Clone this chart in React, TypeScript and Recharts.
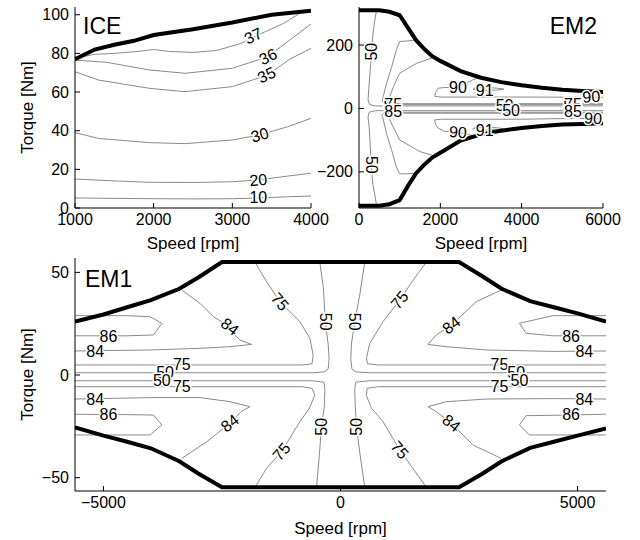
import { ComposedChart, Line, Scatter, XAxis, YAxis } from 'recharts';

type Pt = [number, number];
type Lbl = { x: number; y: number; text: string; angle: number };

// ---------- ICE ----------
const ICE_SPEED_TICKS = [1000, 2000, 3000, 4000];
const ICE_TORQUE_TICKS = [0, 20, 40, 60, 80, 100];

const ICE_MAX: Pt[] = [
  [1000, 77], [1250, 82], [1500, 84.5], [1750, 86.5], [2000, 89.5],
  [2500, 92.5], [3000, 96], [3500, 100], [4000, 102],
];
const ICE_37: Pt[] = [
  [1000, 77.5], [1250, 79.5], [1500, 80], [1800, 81], [2000, 82], [2200, 81],
  [2500, 80.5], [2800, 81.5], [3100, 85], [3300, 89], [3650, 95.5], [3870, 101],
];
const ICE_36: Pt[] = [
  [1000, 76.5], [1400, 75.4], [1950, 71.4], [2400, 69.7], [3000, 72.3],
  [3450, 78.3], [3730, 86.9], [4000, 95.2],
];
const ICE_35: Pt[] = [
  [1000, 70.5], [1300, 66.2], [1950, 61.9], [2400, 60.2], [3000, 62.8],
  [3450, 68.8], [3730, 77], [4000, 82.6],
];
const ICE_30: Pt[] = [
  [1000, 39], [1300, 36], [1950, 33.8], [2400, 33.3], [3000, 35.2],
  [3350, 37.8], [3700, 42], [4000, 46.4],
];
const ICE_20: Pt[] = [
  [1000, 15], [1500, 14], [1950, 13.3], [2500, 13.2], [3000, 13.6],
  [3330, 14.5], [3700, 16.5], [4000, 18],
];
const ICE_10: Pt[] = [
  [1000, 5.2], [1500, 5], [2000, 4.8], [2500, 4.7], [3000, 4.8],
  [3330, 5.2], [3700, 5.8], [4000, 6.2],
];
const ICE_LABELS: Lbl[] = [
  { x: 3266, y: 89, text: '37', angle: -25 },
  { x: 3456, y: 78.3, text: '36', angle: -26 },
  { x: 3436, y: 68.8, text: '35', angle: -25 },
  { x: 3350, y: 37.8, text: '30', angle: -16 },
  { x: 3330, y: 14.5, text: '20', angle: -5 },
  { x: 3330, y: 5.2, text: '10', angle: 0 },
];

// ---------- EM2 ----------
const EM2_SPEED_TICKS = [0, 2000, 4000, 6000];
const EM2_TORQUE_TICKS = [-200, 0, 200];

const EM2_MAX_POS: Pt[] = [
  [0, 310], [500, 310], [750, 305], [1000, 294], [1200, 255], [1400, 216],
  [1600, 188], [1800, 165], [2000, 150], [2500, 118], [3000, 97], [3500, 83],
  [4000, 73], [4500, 65], [5000, 59], [5500, 55], [6000, 52],
];
const EM2_MAX_NEG: Pt[] = [
  [0, -307], [500, -307], [750, -302], [1000, -289], [1200, -245], [1400, -205],
  [1600, -178], [1800, -155], [2000, -140], [2500, -101], [3000, -82], [3500, -70],
  [4000, -62], [4500, -55], [5000, -51], [5500, -49], [6000, -47],
];
const EM2_50_POS: Pt[] = [
  [430, 310], [380, 270], [345, 237], [320, 200], [300, 160], [263, 100],
  [240, 60], [222, 27], [260, 12], [400, 8], [1000, 8], [6000, 8],
];
const EM2_75_POS: Pt[] = [
  [1410, 216], [1200, 213], [1000, 211], [920, 185], [800, 130], [680, 80],
  [600, 40], [570, 22], [640, 13], [900, 12], [6000, 12],
];
const EM2_85_POS: Pt[] = [
  [1820, 160], [1410, 142], [1000, 111], [850, 70], [755, 37], [720, 22],
  [800, 16], [1000, 15], [6000, 15],
];
const EM2_90_POS: Pt[] = [
  [2950, 99], [2700, 84], [2434, 67], [2100, 66], [1945, 63.7], [1880, 50],
  [1867, 38], [2000, 36], [3000, 36], [4000, 36], [5000, 35.5], [6000, 35],
];
const EM2_91_POS: Pt[] = [
  [2800, 60], [3100, 57], [3400, 58], [3560, 61], [3400, 64], [3100, 66],
  [2850, 65], [2800, 60],
];
const EM2_50_NEG: Pt[] = [
  [6000, -7], [1000, -7], [400, -7], [250, -12], [222, -27], [250, -60],
  [270, -100], [300, -178], [340, -240], [400, -280], [430, -305],
];
const EM2_75_NEG: Pt[] = [
  [6000, -12], [900, -12], [620, -14], [560, -22], [590, -31], [673, -78],
  [800, -130], [918, -184], [1000, -206], [1200, -206], [1410, -204],
];
const EM2_85_NEG: Pt[] = [
  [6000, -15], [1000, -15], [780, -17], [720, -22], [755, -36], [1000, -99],
  [1492, -136], [1861, -150],
];
const EM2_90_NEG: Pt[] = [
  [6000, -31], [5000, -32], [4000, -34], [3000, -34], [2000, -34], [1861, -36],
  [1880, -50], [1945, -62], [2100, -72], [2434, -75], [2650, -81], [2800, -87],
];
const EM2_91_NEG: Pt[] = [
  [2800, -64], [3100, -67], [3400, -67], [3560, -64], [3400, -61], [3100, -60],
  [2850, -60], [2800, -64],
];
const EM2_LABELS: Lbl[] = [
  { x: 304, y: 179, text: '50', angle: -90 },
  { x: 304, y: -178, text: '50', angle: 90 },
  { x: 820, y: 9, text: '85', angle: 0 },
  { x: 840, y: 14, text: '75', angle: 0 },
  { x: 820, y: -13, text: '75', angle: 0 },
  { x: 840, y: -9, text: '85', angle: 0 },
  { x: 3580, y: 10, text: '50', angle: 0 },
  { x: 3740, y: -6, text: '50', angle: 0 },
  { x: 5240, y: 9, text: '85', angle: 0 },
  { x: 5262, y: 14, text: '75', angle: 0 },
  { x: 5240, y: -13, text: '75', angle: 0 },
  { x: 5262, y: -9, text: '85', angle: 0 },
  { x: 2434, y: 67, text: '90', angle: 0 },
  { x: 2434, y: -75, text: '90', angle: 4 },
  { x: 3091, y: 57, text: '91', angle: 0 },
  { x: 3091, y: -68, text: '91', angle: 0 },
  { x: 5714, y: 37, text: '90', angle: -4 },
  { x: 5755, y: -31, text: '90', angle: 4 },
];

// ---------- EM1 ----------
const EM1_SPEED_TICKS = [-5000, 0, 5000];
const EM1_TORQUE_TICKS = [-50, 0, 50];

const EM1_MAX_POS: Pt[] = [
  [-5600, 26], [-5000, 29.5], [-4500, 33], [-4000, 36.5], [-3400, 42], [-3000, 47.5],
  [-2500, 55], [2500, 55], [3000, 48], [3400, 42], [4000, 36], [4500, 33],
  [5000, 30], [5600, 26],
];
const EM1_MAX_NEG: Pt[] = [
  [-5600, -25.5], [-5000, -29.5], [-4500, -32.5], [-4000, -35.7], [-3400, -42],
  [-3000, -48], [-2500, -54.7], [2500, -54.7], [3000, -48], [3400, -42],
  [4000, -35.5], [4500, -32.5], [5000, -29.5], [5600, -26],
];
const EM1_86_UL: Pt[] = [
  [-5600, 28.9], [-4500, 28.9], [-4015, 28.4], [-3768, 25.2], [-3945, 19.5],
  [-4500, 19.1], [-5600, 19.1],
];
const EM1_84_UL: Pt[] = [
  [-5600, 11.7], [-4000, 12.2], [-2962, 13], [-2331, 13.8], [-1874, 14.9],
  [-2120, 17], [-2261, 20.3], [-2331, 23.5], [-2682, 28.4], [-2962, 34.9], [-3347, 41.4],
];
const EM1_75_UL: Pt[] = [
  [-1804, 55], [-1558, 45.4], [-1278, 35.7], [-857, 26], [-646, 17.9],
  [-577, 9.7], [-600, 5.5], [-800, 4.9], [-5600, 4.9],
];
const EM1_50_UL: Pt[] = [
  [-436, 55], [-360, 42], [-320, 26], [-260, 15], [-240, 8], [-260, 3],
  [-350, 1.5], [-600, 1.1], [-5600, 1.1],
];
const EM1_50_UR: Pt[] = [
  [512, 55], [406, 39], [300, 26], [230, 15], [217, 8], [240, 3],
  [330, 1.5], [600, 1.1], [5600, 1.1],
];
const EM1_75_UR: Pt[] = [
  [1810, 55], [1459, 43.8], [1248, 36.5], [897, 26], [617, 15.4],
  [547, 8.1], [570, 5.5], [800, 4.9], [5600, 4.9],
];
const EM1_84_UR: Pt[] = [
  [3389, 41.4], [2863, 35.7], [2337, 24.3], [2021, 19.5], [1845, 14.9],
  [2232, 13.8], [3074, 12.2], [4500, 11.5], [5600, 11.7],
];
const EM1_86_UR: Pt[] = [
  [5600, 28.9], [4476, 28.9], [3775, 25.2], [3916, 20.3], [4476, 19.1], [5600, 19.1],
];
const EM1_86_LL: Pt[] = [
  [-5600, -19.1], [-4500, -19.3], [-3945, -19.5], [-3768, -24.3], [-4015, -29.2],
  [-4500, -29.2], [-5600, -29.2],
];
const EM1_84_LL: Pt[] = [
  [-5600, -11.7], [-4000, -11], [-2962, -11], [-2331, -13], [-1909, -15.4],
  [-2100, -17.9], [-2331, -23.5], [-2821, -32.5], [-3347, -40.6],
];
const EM1_75_LL: Pt[] = [
  [-5600, -5.7], [-800, -5.7], [-600, -6.5], [-541, -9.7], [-650, -16],
  [-857, -22.7], [-1242, -37.3], [-1558, -45.4], [-1804, -54.7],
];
const EM1_50_LL: Pt[] = [
  [-5600, -2.8], [-600, -2.8], [-350, -3.5], [-330, -7], [-340, -15],
  [-400, -25.2], [-450, -40], [-505, -54.7],
];
const EM1_50_LR: Pt[] = [
  [5600, -2.8], [600, -2.8], [320, -3.5], [300, -7], [310, -15],
  [337, -25.2], [420, -40], [512, -54.7],
];
const EM1_75_LR: Pt[] = [
  [5600, -5.7], [800, -5.7], [560, -6.5], [547, -10], [650, -16],
  [897, -22.7], [1248, -36.5], [1810, -54.7],
];
const EM1_84_LR: Pt[] = [
  [5600, -11.7], [4500, -11.5], [3074, -11.7], [2232, -13], [1845, -15.4],
  [2021, -17.9], [2337, -23.5], [2792, -34.1], [3389, -40.6],
];
const EM1_86_LR: Pt[] = [
  [5600, -19.1], [4863, -19.5], [3916, -19.8], [3775, -24.3], [3985, -29.2], [5600, -29.2],
];
const EM1_LABELS: Lbl[] = [
  { x: -4893, y: 18.9, text: '86', angle: 0 },
  { x: -5173, y: 11.6, text: '84', angle: 0 },
  { x: -2331, y: 23.5, text: '84', angle: 38 },
  { x: -1278, y: 35.7, text: '75', angle: 50 },
  { x: -310, y: 26, text: '50', angle: 90 },
  { x: 286, y: 26, text: '50', angle: 90 },
  { x: 1248, y: 36.5, text: '75', angle: -50 },
  { x: 2337, y: 24.3, text: '84', angle: -38 },
  { x: 4863, y: 18.9, text: '86', angle: 0 },
  { x: 5143, y: 11.6, text: '84', angle: 0 },
  { x: -3347, y: 4.9, text: '75', angle: 0 },
  { x: -3699, y: 1.1, text: '50', angle: 0 },
  { x: -3768, y: -2.8, text: '50', angle: 0 },
  { x: -3347, y: -5.7, text: '75', angle: 0 },
  { x: 3354, y: 4.9, text: '75', angle: 0 },
  { x: 3705, y: 1.1, text: '50', angle: 0 },
  { x: 3775, y: -2.8, text: '50', angle: 0 },
  { x: 3354, y: -5.7, text: '75', angle: 0 },
  { x: -5173, y: -11.7, text: '84', angle: 0 },
  { x: -4893, y: -19.3, text: '86', angle: 0 },
  { x: -2331, y: -23.5, text: '84', angle: -38 },
  { x: -1242, y: -37.3, text: '75', angle: -50 },
  { x: -400, y: -25.2, text: '50', angle: -90 },
  { x: 337, y: -25.2, text: '50', angle: -90 },
  { x: 1248, y: -36.5, text: '75', angle: 50 },
  { x: 2337, y: -23.5, text: '84', angle: 38 },
  { x: 5143, y: -11.7, text: '84', angle: 0 },
  { x: 4863, y: -19.3, text: '86', angle: 0 },
];

const FONT = '"Liberation Sans", Arial, Helvetica, sans-serif';
const CONTOUR_COLOR = '#8a8a8a';
const Y_AXIS_W = 30;
const X_AXIS_H = 30;

const rows = (pts: Pt[]) => pts.map(([x, y]) => ({ x, y }));
const fmt = (v: number) => (v < 0 ? `\u2212${Math.abs(v)}` : String(v));

const XTick = (props: any) => {
  const { x, y, payload } = props;
  return (
    <g>
      <line x1={x} y1={y} x2={x} y2={y - 5} stroke="#000" strokeWidth={1} />
      <text x={x} y={y + 11.5} textAnchor="middle" dominantBaseline="central" fontSize={16} fontFamily={FONT} fill="#000">
        {fmt(payload.value)}
      </text>
    </g>
  );
};

const YTick = (props: any) => {
  const { x, y, payload } = props;
  return (
    <g>
      <line x1={x} y1={y} x2={x + 5} y2={y} stroke="#000" strokeWidth={1} />
      <text x={x - 6} y={y} textAnchor="end" dominantBaseline="central" fontSize={16} fontFamily={FONT} fill="#000">
        {fmt(payload.value)}
      </text>
    </g>
  );
};

const ContourLabel = (props: any) => {
  const { cx, cy, payload } = props;
  if (cx == null || cy == null) return null;
  return (
    <text
      x={cx}
      y={cy}
      transform={`rotate(${payload.angle} ${cx} ${cy})`}
      textAnchor="middle"
      dominantBaseline="central"
      fontSize={16}
      fontFamily={FONT}
      fill="#000"
      stroke="#fff"
      strokeWidth={3}
      paintOrder="stroke"
    >
      {payload.text}
    </text>
  );
};

type TextItem = { x: number; y: number; text: string; size: number; anchor: string; rotate?: number };

const Texts = ({ items }: { items: TextItem[] }) => (
  <g>
    {items.map((t, i) => (
      <text
        key={i}
        x={t.x}
        y={t.y}
        textAnchor={t.anchor}
        dominantBaseline={t.rotate != null ? 'central' : 'alphabetic'}
        transform={t.rotate != null ? `rotate(${t.rotate} ${t.x} ${t.y})` : undefined}
        fontSize={t.size}
        fontFamily={FONT}
        fill="#000"
      >
        {t.text}
      </text>
    ))}
  </g>
);

interface PanelProps {
  width: number;
  height: number;
  plot: { top: number; right: number; bottom: number; left: number };
  xDomain: [number, number];
  yDomain: [number, number];
  xTicks: number[];
  yTicks: number[];
  contours: Pt[][];
  bounds: Pt[][];
  labels: Lbl[];
  texts: TextItem[];
}

// plot = distance of the plot area from each edge of the chart
function Panel({ width, height, plot, xDomain, yDomain, xTicks, yTicks, contours, bounds, labels, texts }: PanelProps) {
  const margin = {
    top: plot.top,
    right: plot.right,
    bottom: plot.bottom - X_AXIS_H,
    left: plot.left - Y_AXIS_W,
  };
  return (
    <ComposedChart width={width} height={height} margin={margin}>
      <XAxis
        type="number"
        dataKey="x"
        domain={xDomain}
        ticks={xTicks}
        interval={0}
        allowDataOverflow
        height={X_AXIS_H}
        tickSize={0}
        tickMargin={0}
        tickLine={false}
        axisLine={{ stroke: '#000', strokeWidth: 1 }}
        tick={<XTick />}
      />
      <YAxis
        type="number"
        dataKey="y"
        domain={yDomain}
        ticks={yTicks}
        interval={0}
        allowDataOverflow
        width={Y_AXIS_W}
        tickSize={0}
        tickMargin={0}
        tickLine={false}
        axisLine={{ stroke: '#000', strokeWidth: 1 }}
        tick={<YTick />}
        label={<Texts items={texts} />}
      />
      {contours.map((c, i) => (
        <Line
          key={`c${i}`}
          data={rows(c)}
          dataKey="y"
          type="linear"
          stroke={CONTOUR_COLOR}
          strokeWidth={1}
          dot={false}
          activeDot={false}
          isAnimationActive={false}
        />
      ))}
      {bounds.map((b, i) => (
        <Line
          key={`b${i}`}
          data={rows(b)}
          dataKey="y"
          type="linear"
          stroke="#000"
          strokeWidth={4}
          dot={false}
          activeDot={false}
          isAnimationActive={false}
        />
      ))}
      <Scatter data={labels} dataKey="y" shape={<ContourLabel />} isAnimationActive={false} />
    </ComposedChart>
  );
}

export default function App() {
  return (
    <div style={{ position: 'absolute', left: 0, top: 0, width: 640, height: 540, background: '#fff', fontFamily: FONT }}>
      <div style={{ position: 'absolute', left: 0, top: 0 }}>
        <Panel
          width={345}
          height={260}
          plot={{ top: 7, right: 34, bottom: 52, left: 75 }}
          xDomain={[1000, 4000]}
          yDomain={[0, 104]}
          xTicks={ICE_SPEED_TICKS}
          yTicks={ICE_TORQUE_TICKS}
          contours={[ICE_37, ICE_36, ICE_35, ICE_30, ICE_20, ICE_10]}
          bounds={[ICE_MAX]}
          labels={ICE_LABELS}
          texts={[
            { x: 83, y: 34, text: 'ICE', size: 23, anchor: 'start' },
            { x: 27, y: 107.5, text: 'Torque [Nm]', size: 17, anchor: 'middle', rotate: -90 },
            { x: 193, y: 249, text: 'Speed [rpm]', size: 17, anchor: 'middle' },
          ]}
        />
      </div>
      <div style={{ position: 'absolute', left: 300, top: 0 }}>
        <Panel
          width={340}
          height={260}
          plot={{ top: 7, right: 37, bottom: 52, left: 59 }}
          xDomain={[0, 6000]}
          yDomain={[-314, 320]}
          xTicks={EM2_SPEED_TICKS}
          yTicks={EM2_TORQUE_TICKS}
          contours={[
            EM2_50_POS, EM2_75_POS, EM2_85_POS, EM2_90_POS, EM2_91_POS,
            EM2_50_NEG, EM2_75_NEG, EM2_85_NEG, EM2_90_NEG, EM2_91_NEG,
          ]}
          bounds={[EM2_MAX_POS, EM2_MAX_NEG]}
          labels={EM2_LABELS}
          texts={[
            { x: 297, y: 34, text: 'EM2', size: 23, anchor: 'end' },
            { x: 181, y: 249, text: 'Speed [rpm]', size: 17, anchor: 'middle' },
          ]}
        />
      </div>
      <div style={{ position: 'absolute', left: 0, top: 250 }}>
        <Panel
          width={640}
          height={290}
          plot={{ top: 8, right: 34, bottom: 49, left: 75 }}
          xDomain={[-5600, 5600]}
          yDomain={[-56.5, 57]}
          xTicks={EM1_SPEED_TICKS}
          yTicks={EM1_TORQUE_TICKS}
          contours={[
            EM1_86_UL, EM1_84_UL, EM1_75_UL, EM1_50_UL, EM1_50_UR, EM1_75_UR, EM1_84_UR, EM1_86_UR,
            EM1_86_LL, EM1_84_LL, EM1_75_LL, EM1_50_LL, EM1_50_LR, EM1_75_LR, EM1_84_LR, EM1_86_LR,
          ]}
          bounds={[EM1_MAX_POS, EM1_MAX_NEG]}
          labels={EM1_LABELS}
          texts={[
            { x: 85, y: 37, text: 'EM1', size: 23, anchor: 'start' },
            { x: 27, y: 124.5, text: 'Torque [Nm]', size: 17, anchor: 'middle', rotate: -90 },
            { x: 340.5, y: 284, text: 'Speed [rpm]', size: 17, anchor: 'middle' },
          ]}
        />
      </div>
    </div>
  );
}
